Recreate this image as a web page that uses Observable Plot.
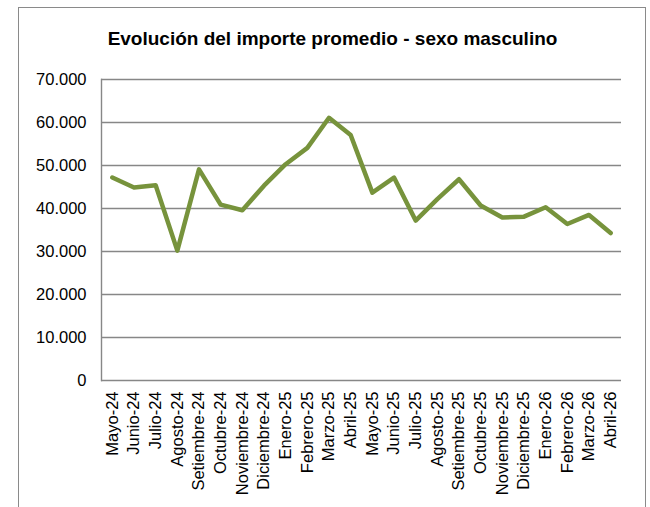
<!DOCTYPE html>
<html>
<head>
<meta charset="utf-8">
<script src="https://cdn.jsdelivr.net/npm/d3@7"></script>
<script src="https://cdn.jsdelivr.net/npm/@observablehq/plot@0.6"></script>
<style>
  html, body { margin: 0; padding: 0; background: #fff; }
  #wrap { position: relative; width: 650px; height: 507px; overflow: hidden; font-family: "Liberation Sans", Arial, sans-serif; }
  #frame { position: absolute; left: 18px; top: 7px; width: 628px; height: 520px; border: 1.5px solid #8a8a8a; box-sizing: border-box; }
  #title { position: absolute; left: 19px; width: 627px; top: 28px; text-align: center; font-size: 19px; font-weight: bold; color: #000; }
  #chart { position: absolute; left: 0; top: 0; }
</style>
</head>
<body>
<div id="wrap">
  <div id="frame"></div>
  <div id="title">Evolución del importe promedio - sexo masculino</div>
  <div id="chart"></div>
</div>
<script>
const months = ["Mayo-24","Junio-24","Julio-24","Agosto-24","Setiembre-24","Octubre-24","Noviembre-24","Diciembre-24","Enero-25","Febrero-25","Marzo-25","Abril-25","Mayo-25","Junio-25","Julio-25","Agosto-25","Setiembre-25","Octubre-25","Noviembre-25","Diciembre-25","Enero-26","Febrero-26","Marzo-26","Abril-26"];
const values = [47200, 44900, 45400, 30200, 49100, 40900, 39600, 45300, 50300, 54100, 61100, 57100, 43700, 47200, 37200, 42200, 46800, 40700, 37900, 38100, 40300, 36400, 38500, 34300];
const yTicks = [0, 10000, 20000, 30000, 40000, 50000, 60000, 70000];

const data = months.map((m, i) => ({month: m, value: values[i]}));
const fmt = d => d === 0 ? "0" : d3.format(",")(d).replace(/,/g, ".");

const chart = Plot.plot({
  width: 650,
  height: 507,
  marginLeft: 101,
  marginRight: 29,
  marginTop: 79,
  marginBottom: 127,
  style: {fontFamily: "'Liberation Sans', Arial, sans-serif", fontSize: "16.5px", color: "#000", background: "transparent", overflow: "visible"},
  x: {type: "point", domain: months, padding: 0.5, round: false, label: null},
  y: {domain: [0, 70000], label: null},
  marks: [
    Plot.ruleY(yTicks, {stroke: "#878787", strokeWidth: 1.4, strokeOpacity: 1}),
    Plot.frame({anchor: "left", stroke: "#878787", strokeWidth: 1.4}),
    Plot.axisY(yTicks, {tickSize: 0, tickPadding: 15, tickFormat: fmt, fill: "#000"}),
    Plot.axisX({tickSize: 0, tickPadding: 11, tickRotate: -90, fill: "#000"}),
    Plot.line(data, {x: "month", y: "value", stroke: "#77933C", strokeWidth: 4.5, strokeLinejoin: "round", strokeLinecap: "round"})
  ]
});
document.getElementById("chart").appendChild(chart);
</script>
</body>
</html>
